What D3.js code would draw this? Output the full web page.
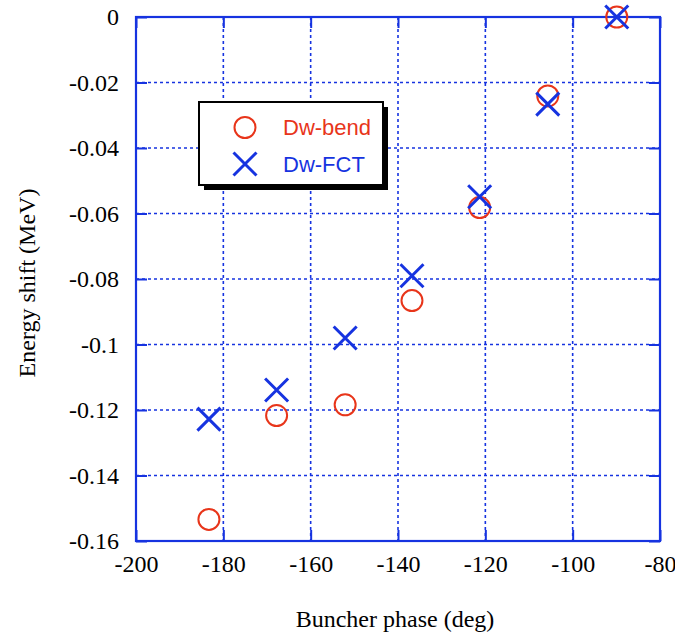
<!DOCTYPE html>
<html>
<head>
<meta charset="utf-8">
<script src="https://cdn.jsdelivr.net/npm/d3@7"></script>
<style>
  html, body { margin: 0; padding: 0; background: #fff; }
  svg { display: block; }
</style>
</head>
<body>
<svg id="chart" width="675" height="634"></svg>
<script>
// Buncher phase scan: energy shift measured two ways
const phase     = [-183.3, -167.8, -152.1, -136.8, -121.3, -105.7, -89.9];
const dwBend    = [-0.1534, -0.1217, -0.1184, -0.0866, -0.0582, -0.0241, 0];
const dwFct     = [-0.1228, -0.1139, -0.0980, -0.0790, -0.0549, -0.0266, 0];
const xTicks    = [-200, -180, -160, -140, -120, -100, -80];
const yTicks    = [0, -0.02, -0.04, -0.06, -0.08, -0.1, -0.12, -0.14, -0.16];
const seriesNames = ["Dw-bend", "Dw-FCT"];

const blue = "#1633e0";
const red = "#e8351a";
const serif = "'Liberation Serif', 'Times New Roman', serif";
const sans = "'Liberation Sans', Arial, Helvetica, sans-serif";
const margin = { left: 136, top: 17, right: 15, bottom: 93 };
const W = 675, H = 634;
const pw = W - margin.left - margin.right;   // plot width
const ph = H - margin.top - margin.bottom;   // plot height

const svg = d3.select("#chart");
const g = svg.append("g").attr("transform", `translate(${margin.left},${margin.top})`);

const x = d3.scaleLinear().domain([-200, -80]).range([0, pw]);
const y = d3.scaleLinear().domain([-0.16, 0]).range([ph, 0]);

// dotted grid
g.append("g").selectAll("line")
  .data(xTicks.slice(1, -1)).join("line")
  .attr("x1", d => x(d)).attr("x2", d => x(d))
  .attr("y1", 0).attr("y2", ph)
  .attr("stroke", blue).attr("stroke-width", 1.6)
  .attr("stroke-dasharray", "3,3");
g.append("g").selectAll("line")
  .data(yTicks.slice(1, -1)).join("line")
  .attr("y1", d => y(d)).attr("y2", d => y(d))
  .attr("x1", 0).attr("x2", pw)
  .attr("stroke", blue).attr("stroke-width", 1.6)
  .attr("stroke-dasharray", "3,3");

// axes with inward ticks on all four sides
const tickLen = 11;
const axStyle = sel => {
  sel.attr("font-family", serif).attr("font-size", 24);
  sel.select(".domain").remove();
  sel.selectAll(".tick line").attr("stroke", blue).attr("stroke-width", 2);
  sel.selectAll(".tick text")
    .attr("fill", "#000")
    .style("font-family", serif)
    .style("font-size", "24px");
};

g.append("g").attr("transform", `translate(0,${ph})`)
  .call(d3.axisBottom(x).tickValues(xTicks).tickSize(-tickLen).tickPadding(14)
    .tickFormat(d => String(d)))
  .call(axStyle);
g.append("g")
  .call(d3.axisTop(x).tickValues(xTicks).tickSize(-tickLen).tickFormat(""))
  .call(axStyle);
g.append("g")
  .call(d3.axisLeft(y).tickValues(yTicks).tickSize(-tickLen).tickPadding(17)
    .tickFormat(d => d === 0 ? "0" : String(+d.toFixed(2))))
  .call(axStyle);
g.append("g").attr("transform", `translate(${pw},0)`)
  .call(d3.axisRight(y).tickValues(yTicks).tickSize(-tickLen).tickFormat(""))
  .call(axStyle);

// frame
g.append("rect").attr("x", 0).attr("y", 0).attr("width", pw).attr("height", ph)
  .attr("fill", "none").attr("stroke", blue).attr("stroke-width", 2.2);

// markers
const crossPath = s => `M${-s},${-s}L${s},${s}M${-s},${s}L${s},${-s}`;
const bendData = phase.map((p, i) => ({ p, v: dwBend[i] }));
const fctData = phase.map((p, i) => ({ p, v: dwFct[i] }));

g.append("g").selectAll("circle").data(bendData).join("circle")
  .attr("cx", d => x(d.p)).attr("cy", d => y(d.v)).attr("r", 10.5)
  .attr("fill", "none").attr("stroke", red).attr("stroke-width", 2);

g.append("g").selectAll("path").data(fctData).join("path")
  .attr("transform", d => `translate(${x(d.p)},${y(d.v)})`)
  .attr("d", crossPath(11.5))
  .attr("fill", "none").attr("stroke", blue).attr("stroke-width", 3);

// legend with drop shadow
const lg = svg.append("g").attr("transform", "translate(199,102)");
const lw = 184, lh = 83;
lg.append("rect").attr("x", 5).attr("y", 5).attr("width", lw).attr("height", lh).attr("fill", "#000");
lg.append("rect").attr("x", 0).attr("y", 0).attr("width", lw).attr("height", lh)
  .attr("fill", "#fff").attr("stroke", "#000").attr("stroke-width", 2);
lg.append("circle").attr("cx", 46).attr("cy", 25.5).attr("r", 10.5)
  .attr("fill", "none").attr("stroke", red).attr("stroke-width", 2);
lg.append("path").attr("transform", "translate(46,62)").attr("d", crossPath(11.5))
  .attr("fill", "none").attr("stroke", blue).attr("stroke-width", 3);
lg.append("text").attr("x", 84).attr("y", 33).text(seriesNames[0])
  .attr("fill", red).style("font-family", sans).style("font-size", "22px");
lg.append("text").attr("x", 84).attr("y", 70).text(seriesNames[1])
  .attr("fill", blue).style("font-family", sans).style("font-size", "22px");

// axis titles
svg.append("text").attr("x", 395).attr("y", 627).attr("text-anchor", "middle")
  .style("font-family", serif).style("font-size", "24px").text("Buncher phase (deg)");
svg.append("text").attr("transform", "translate(35,283) rotate(-90)").attr("text-anchor", "middle")
  .style("font-family", serif).style("font-size", "24px").text("Energy shift (MeV)");
</script>
</body>
</html>
